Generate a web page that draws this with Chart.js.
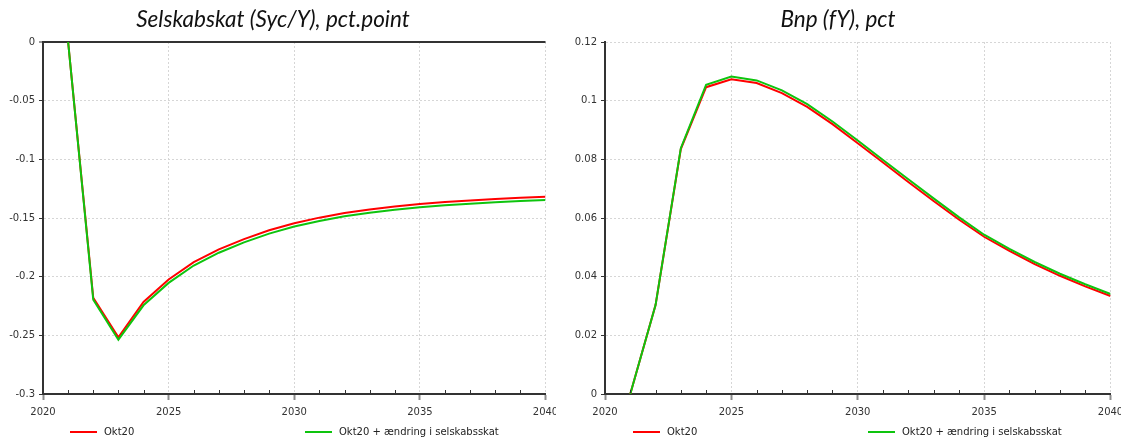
<!DOCTYPE html>
<html>
<head>
<meta charset="utf-8">
<script src="https://cdn.jsdelivr.net/npm/chart.js@4.4.1/dist/chart.umd.min.js"></script>
<style>
    body { margin: 0; background: #fff; width: 1130px; height: 441px; overflow: hidden; position: relative; font-family: "DejaVu Sans", Verdana, sans-serif; }
    .panel { position: absolute; top: 0; width: 556px; height: 441px; }
    .panel canvas { position: absolute; left: 0; top: 0; }
    .title { position: absolute; top: 5px; left: 0; width: 546px; text-align: center; font: italic 22.5px Lato, "Open Sans", sans-serif; color: #111; }
    .key { position: absolute; top: 426px; font-size: 10px; color: #222; display: flex; align-items: center; white-space: nowrap; }
    .key i { display: inline-block; width: 27px; height: 2px; margin-right: 7px; }
</style>
</head>
<body>

<div class="panel" style="left:0">
    <canvas id="skatChart" width="556" height="441"></canvas>
    <div class="title">Selskabskat (Syc/Y), pct.point</div>
    <div class="key" style="left:70px"><i style="background:#ff0000"></i>Okt20</div>
    <div class="key" style="left:305px"><i style="background:#0ec40e"></i>Okt20 + ændring i selskabsskat</div>
</div>

<div class="panel" style="left:565px">
    <canvas id="bnpChart" width="556" height="441"></canvas>
    <div class="title">Bnp (fY), pct</div>
    <div class="key" style="left:68px"><i style="background:#ff0000"></i>Okt20</div>
    <div class="key" style="left:303px"><i style="background:#0ec40e"></i>Okt20 + ændring i selskabsskat</div>
</div>

<script>
// Data
const years = [2021, 2022, 2023, 2024, 2025, 2026, 2027, 2028, 2029, 2030,
               2031, 2032, 2033, 2034, 2035, 2036, 2037, 2038, 2039, 2040];
const seriesNames = ['Okt20', 'Okt20 + ændring i selskabsskat'];

const skatOkt20 = [0, -0.218, -0.2517, -0.2215, -0.2024, -0.1876, -0.1768, -0.168, -0.1605, -0.1545,
                   -0.1497, -0.1458, -0.1427, -0.1402, -0.1381, -0.1364, -0.135, -0.1338, -0.1328, -0.1319];
const skatAendring = [0, -0.2195, -0.2537, -0.2244, -0.2053, -0.1905, -0.1796, -0.1708, -0.1633, -0.1573,
                      -0.1525, -0.1486, -0.1455, -0.143, -0.1409, -0.1392, -0.1378, -0.1366, -0.1356, -0.1347];

const bnpOkt20 = [0, 0.0303, 0.0835, 0.1046, 0.1073, 0.106, 0.1026, 0.0979, 0.092, 0.0855,
                  0.0789, 0.0723, 0.0658, 0.0595, 0.0536, 0.0488, 0.0443, 0.0403, 0.0367, 0.0334];
const bnpAendring = [0, 0.0303, 0.0838, 0.1054, 0.1082, 0.1069, 0.1035, 0.0988, 0.0929, 0.0864,
                     0.0798, 0.0732, 0.0667, 0.0603, 0.0543, 0.0495, 0.045, 0.041, 0.0374, 0.0341];

const xMin = 2020, xMax = 2040, xStep = 5;
const skatAxis = { min: -0.3, max: 0, step: 0.05 };
const bnpAxis = { min: 0, max: 0.12, step: 0.02 };

const RED = '#ff0000';
const GREEN = '#0ec40e';
const AXIS = '#333333';
const GRID = '#d6d6d6';
const TICK_FONT = { family: 'DejaVu Sans', size: 10 };

function toPoints(values) {
    return years.map((year, i) => ({ x: year, y: values[i] }));
}

// small year ticks sitting on top of the x axis
const minorTicks = {
    id: 'minorTicks',
    afterDraw(chart) {
        const { ctx, scales: { x, y } } = chart;
        const bottom = y.bottom;
        ctx.save();
        ctx.strokeStyle = AXIS;
        ctx.lineWidth = 1;
        for (let yr = xMin + 1; yr < xMax; yr++) {
            if (yr % xStep === 0) continue;
            const px = Math.round(x.getPixelForValue(yr)) + 0.5;
            ctx.beginPath();
            ctx.moveTo(px, bottom - 1);
            ctx.lineTo(px, bottom - 4);
            ctx.stroke();
        }
        ctx.restore();
    }
};

function makeChart(id, okt, aendring, axis, axisWidth, darkZero) {
    const isZero = c => darkZero && c.tick && Math.abs(c.tick.value) < 1e-9;
    return new Chart(document.getElementById(id), {
        type: 'line',
        data: {
            datasets: [
                {
                    label: seriesNames[0],
                    data: toPoints(okt),
                    borderColor: RED,
                    borderWidth: 2,
                    pointRadius: 0,
                    tension: 0,
                    order: 1
                },
                {
                    label: seriesNames[1],
                    data: toPoints(aendring),
                    borderColor: GREEN,
                    borderWidth: 2,
                    pointRadius: 0,
                    tension: 0,
                    order: 0
                }
            ]
        },
        options: {
            responsive: false,
            animation: false,
            layout: { padding: { top: 42, right: 10.5, left: 0, bottom: 0 } },
            plugins: {
                legend: { display: false },
                tooltip: { enabled: false }
            },
            scales: {
                x: {
                    type: 'linear',
                    min: xMin,
                    max: xMax,
                    afterFit(scale) {
                        scale.height = 47;
                        scale.paddingLeft = 0;
                        scale.paddingRight = 0;
                    },
                    ticks: {
                        stepSize: xStep,
                        color: AXIS,
                        font: TICK_FONT,
                        padding: 6,
                        maxRotation: 0,
                        callback: v => String(v)
                    },
                    grid: {
                        color: GRID,
                        lineWidth: 1,
                        tickLength: 6,
                        tickColor: '#8c8c8c',
                        tickWidth: 2
                    },
                    border: { display: true, color: AXIS, width: 2, dash: [2, 2] }
                },
                y: {
                    min: axis.min,
                    max: axis.max,
                    afterFit(scale) {
                        scale.width = axisWidth;
                    },
                    ticks: {
                        stepSize: axis.step,
                        color: AXIS,
                        font: TICK_FONT,
                        padding: 4,
                        callback: v => String(parseFloat(v.toFixed(4)))
                    },
                    grid: {
                        color: c => isZero(c) ? AXIS : GRID,
                        lineWidth: c => isZero(c) ? 2 : 1,
                        tickLength: 4,
                        tickColor: AXIS,
                        tickWidth: 1
                    },
                    border: {
                        display: true,
                        color: AXIS,
                        width: 2,
                        dash: c => isZero(c) ? [] : [2, 2]
                    }
                }
            }
        },
        plugins: [minorTicks]
    });
}

makeChart('skatChart', skatOkt20, skatAendring, skatAxis, 43, true);
makeChart('bnpChart', bnpOkt20, bnpAendring, bnpAxis, 40, false);
</script>
</body>
</html>
